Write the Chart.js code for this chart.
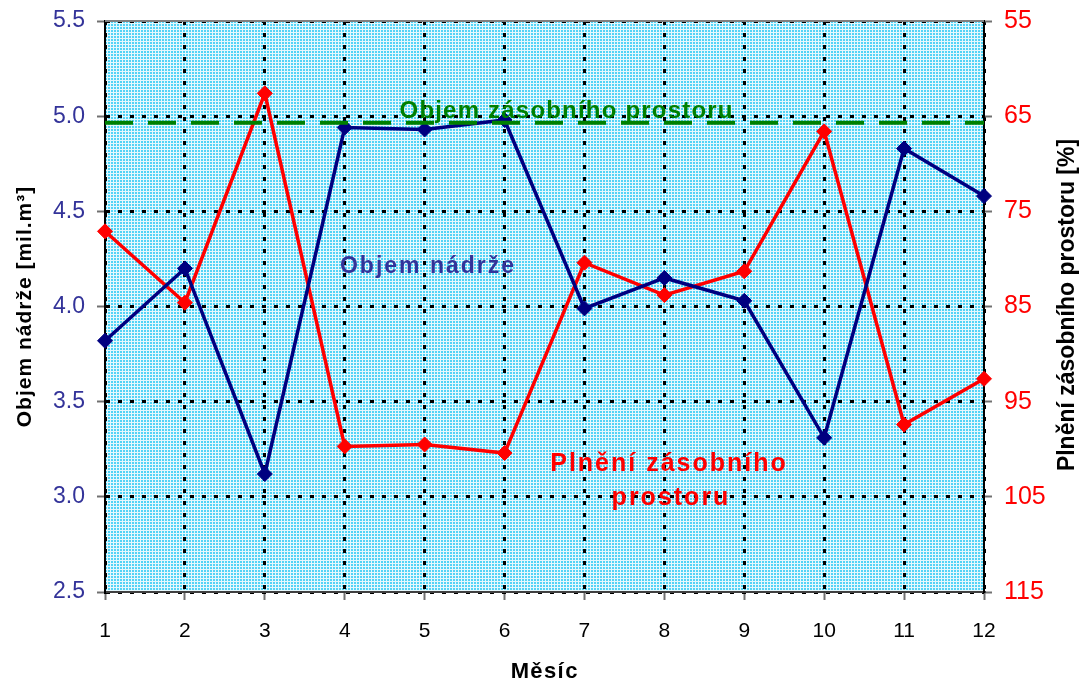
<!DOCTYPE html>
<html>
<head>
<meta charset="utf-8">
<script src="https://cdn.jsdelivr.net/npm/chart.js@4/dist/chart.umd.min.js"></script>
<style>
html,body{margin:0;padding:0;background:#fff;}
#wrap{width:1086px;height:688px;position:relative;}
</style>
</head>
<body>
<div id="wrap"><canvas id="c" width="1086" height="688"></canvas></div>
<script>
// ---- data ----
const mesice = ['1','2','3','4','5','6','7','8','9','10','11','12'];
const objemNadrze = [3.82, 4.20, 3.12, 4.94, 4.93, 4.98, 3.99, 4.15, 4.03, 3.31, 4.83, 4.58];
const plneniProstoru = [77.1, 84.6, 62.6, 99.7, 99.5, 100.4, 80.4, 83.8, 81.3, 66.6, 97.4, 92.6];
const objemProstoru = [4.965, 4.965, 4.965, 4.965, 4.965, 4.965, 4.965, 4.965, 4.965, 4.965, 4.965, 4.965];
const leftTicks = [2.5, 3.0, 3.5, 4.0, 4.5, 5.0, 5.5];
const rightTicks = [55, 65, 75, 85, 95, 105, 115];

const FONT = "'Liberation Sans', Arial, sans-serif";

function makePattern(ctx){
  const p = document.createElement('canvas');
  p.width = 3; p.height = 3;
  const g = p.getContext('2d');
  g.fillStyle = '#e4f8fd';
  g.fillRect(0,0,3,3);
  g.fillStyle = '#52d3f6';
  g.fillRect(0,0,2,2);
  return ctx.createPattern(p, 'repeat');
}

function spacedText(ctx, text, x, y, spacing){
  ctx.letterSpacing = spacing + 'px';
  ctx.fillText(text, x + spacing / 2, y);
  ctx.letterSpacing = '0px';
}

const bgPlugin = {
  id: 'bgPlugin',
  beforeDraw(chart){
    const {ctx, chartArea:a} = chart;
    ctx.save();
    ctx.fillStyle = makePattern(ctx);
    ctx.fillRect(a.left, a.top, a.right - a.left, a.bottom - a.top);
    ctx.restore();
  },
  beforeDatasetsDraw(chart){
    const {ctx, chartArea:a} = chart;
    ctx.save();
    ctx.strokeStyle = '#808080';
    ctx.lineWidth = 2;
    ctx.beginPath();
    ctx.moveTo(a.left, a.top); ctx.lineTo(a.right, a.top);
    ctx.stroke();
    ctx.restore();
  },
  afterDraw(chart){
    const {ctx} = chart;
    ctx.save();
    ctx.textAlign = 'center';
    ctx.textBaseline = 'middle';
    // in-plot labels
    ctx.fillStyle = '#008000';
    ctx.font = "bold 24px " + FONT;
    spacedText(ctx, 'Objem zásobního prostoru', 566, 111, 1.2);
    ctx.fillStyle = '#333399';
    ctx.font = "bold 23px " + FONT;
    spacedText(ctx, 'Objem nádrže', 427, 267, 2);
    ctx.fillStyle = '#ff0000';
    ctx.font = "bold 25px " + FONT;
    spacedText(ctx, 'Plnění zásobního', 668, 464, 2);
    spacedText(ctx, 'prostoru', 670, 498, 2);

    // axis titles
    ctx.fillStyle = '#000';
    ctx.font = "bold 22px " + FONT;
    spacedText(ctx, 'Měsíc', 544, 672, 1.4);

    ctx.save();
    ctx.translate(25, 307);
    ctx.rotate(-Math.PI/2);
    ctx.font = "bold 21px " + FONT;
    spacedText(ctx, 'Objem nádrže [mil.m³]', 0, 0, 1);
    ctx.restore();

    ctx.save();
    ctx.translate(1068, 305);
    ctx.rotate(-Math.PI/2);
    ctx.font = "bold 23px " + FONT;
    ctx.fillText('Plnění zásobního prostoru [%]', 0, 0);
    ctx.restore();

    ctx.restore();
  }
};

const gridDots = {
  color: '#000',
  lineWidth: 3,
  drawTicks: true,
  tickLength: 8,
  tickColor: '#707070',
  tickWidth: 2,
  tickBorderDash: []
};

function noPadV(s, w){ s.width = w; s.paddingTop = 0; s.paddingBottom = 0; }

new Chart(document.getElementById('c'), {
  type: 'line',
  data: {
    labels: mesice,
    datasets: [
      {
        label: 'Objem zásobního prostoru',
        data: objemProstoru,
        yAxisID: 'y',
        borderColor: '#008000',
        borderWidth: 4,
        borderDash: [28, 15],
        pointRadius: 0,
        fill: false,
        clip: false,
        tension: 0
      },
      {
        label: 'Objem nádrže',
        data: objemNadrze,
        yAxisID: 'y',
        borderColor: '#000080',
        backgroundColor: '#000080',
        borderWidth: 3.5,
        pointStyle: 'rectRot',
        pointRadius: 7.5,
        pointBorderWidth: 1,
        fill: false,
        clip: false,
        tension: 0
      },
      {
        label: 'Plnění zásobního prostoru',
        data: plneniProstoru,
        yAxisID: 'y2',
        borderColor: '#ff0000',
        backgroundColor: '#ff0000',
        borderWidth: 3.5,
        pointStyle: 'rectRot',
        pointRadius: 7.5,
        pointBorderWidth: 1,
        fill: false,
        clip: false,
        tension: 0
      }
    ]
  },
  options: {
    responsive: false,
    animation: false,
    devicePixelRatio: 1,
    layout: { padding: { top: 21, left: 0, right: 0, bottom: 0 } },
    plugins: { legend: { display: false }, tooltip: { enabled: false } },
    scales: {
      x: {
        type: 'category',
        offset: false,
        grid: Object.assign({}, gridDots, { offset: false }),
        border: { display: true, color: '#404040', width: 2, dash: [4, 8] },
        ticks: { color: '#000', font: { family: FONT, size: 21 }, padding: 19, maxRotation: 0, autoSkip: false },
        afterFit(s){ s.height = 96; s.paddingLeft = 0; s.paddingRight = 0; }
      },
      y: {
        position: 'left',
        min: 2.5, max: 5.5,
        afterBuildTicks(s){ s.ticks = leftTicks.map(v => ({value: v})); },
        grid: gridDots,
        border: { display: true, color: '#000', width: 2, dash: [4, 8] },
        ticks: { color: '#333399', font: { family: FONT, size: 23 }, padding: 12,
                 callback: v => Number(v).toFixed(1) },
        afterFit(s){ noPadV(s, 105); }
      },
      y2: {
        position: 'right',
        min: 55, max: 115,
        reverse: true,
        afterBuildTicks(s){ s.ticks = rightTicks.map(v => ({value: v})); },
        grid: { drawOnChartArea: false, drawTicks: true, tickLength: 8, tickColor: '#707070', tickWidth: 2 },
        border: { display: true, color: '#000', width: 2 },
        ticks: { color: '#ff0000', font: { family: FONT, size: 25 }, padding: 12 },
        afterFit(s){ noPadV(s, 102); }
      }
    }
  },
  plugins: [bgPlugin]
});
</script>
</body>
</html>
